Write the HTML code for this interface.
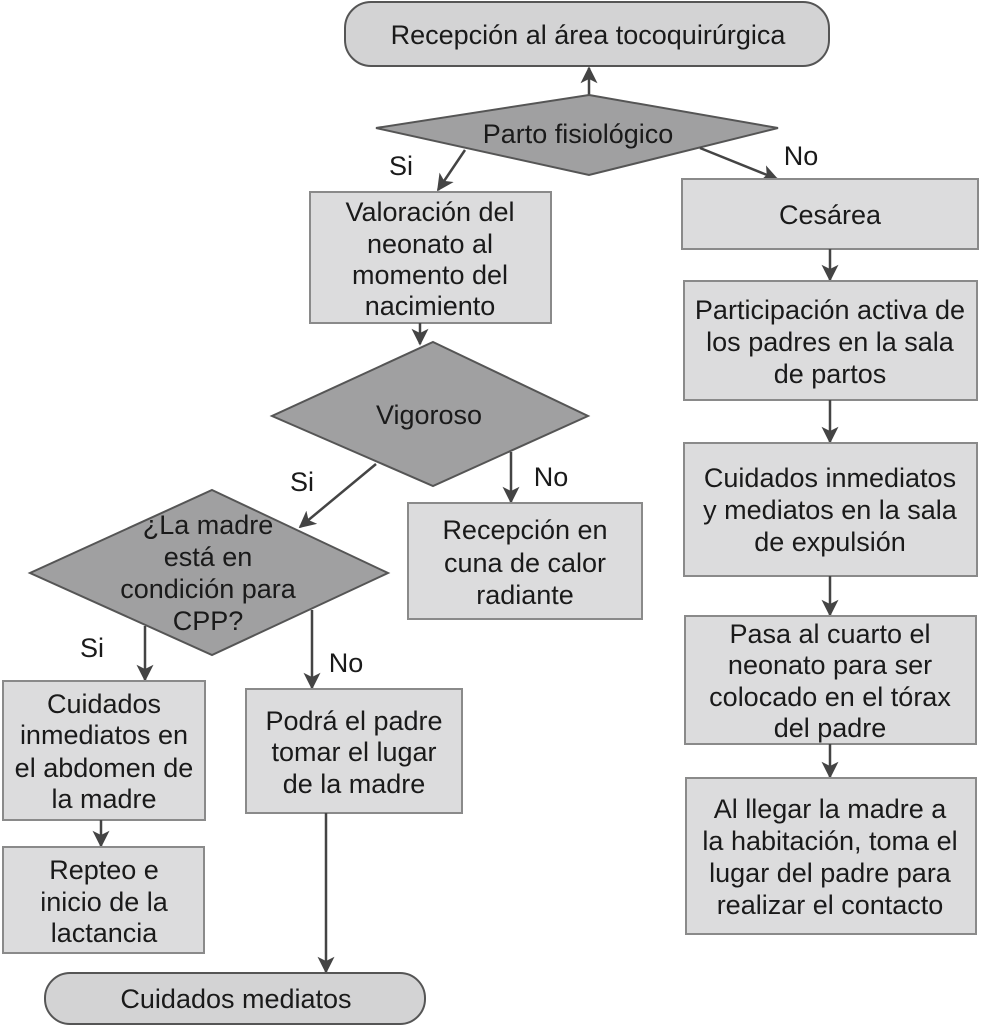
<!DOCTYPE html>
<html><head><meta charset="utf-8"><style>
html,body{margin:0;padding:0;background:#fff}
svg{display:block}
text{font-family:"Liberation Sans",Arial,sans-serif;font-size:27px;fill:#1a1a1a;text-anchor:middle}
.b{fill:#dcdcdd;stroke:#8a8a8a;stroke-width:2}
.t{fill:#d3d3d4;stroke:#555;stroke-width:2}
.d{fill:#a0a0a1;stroke:#555;stroke-width:2}
.l{stroke:#444;stroke-width:2.5;fill:none;marker-end:url(#m)}
</style></head><body>
<svg width="981" height="1027" viewBox="0 0 981 1027" xmlns="http://www.w3.org/2000/svg">
<defs>
<marker id="m" viewBox="0 0 10 10" refX="9" refY="5" markerWidth="17" markerHeight="17" markerUnits="userSpaceOnUse" orient="auto"><path d="M0,0 L10,5 L0,10 L2.5,5 z" fill="#444"/></marker></defs>

<rect class="t" x="345" y="2" width="484" height="64" rx="26"/>
<text x="588" y="44">Recepción al área tocoquirúrgica</text>
<line class="l" x1="589" y1="95" x2="589" y2="68"/>

<polygon class="d" points="589,95 778,128 589,175 376,128"/>
<text x="578" y="143">Parto fisiológico</text>
<text x="401" y="175">Si</text>
<line class="l" x1="465" y1="150" x2="438" y2="190"/>
<text x="801" y="165">No</text>
<line class="l" x1="700" y1="148" x2="777" y2="179"/>

<rect class="b" x="310" y="192" width="241" height="131"/>
<text x="430" y="221">Valoración del</text>
<text x="430" y="253">neonato al</text>
<text x="430" y="284">momento del</text>
<text x="430" y="315">nacimiento</text>
<line class="l" x1="420" y1="323" x2="420" y2="344"/>

<rect class="b" x="682" y="179" width="296" height="70"/>
<text x="830" y="224">Cesárea</text>
<line class="l" x1="830" y1="249" x2="830" y2="280"/>
<rect class="b" x="684" y="281" width="293" height="119"/>
<text x="830" y="319">Participación activa de</text>
<text x="830" y="351">los padres en la sala</text>
<text x="830" y="383">de partos</text>
<line class="l" x1="830" y1="400" x2="830" y2="442"/>
<rect class="b" x="684" y="443" width="293" height="133"/>
<text x="830" y="487">Cuidados inmediatos</text>
<text x="830" y="519">y mediatos en la sala</text>
<text x="830" y="551">de expulsión</text>
<line class="l" x1="830" y1="576" x2="830" y2="615"/>
<rect class="b" x="685" y="616" width="291" height="128"/>
<text x="830" y="643">Pasa al cuarto el</text>
<text x="830" y="674">neonato para ser</text>
<text x="830" y="706">colocado en el tórax</text>
<text x="830" y="737">del padre</text>
<line class="l" x1="830" y1="744" x2="830" y2="777"/>
<rect class="b" x="686" y="778" width="290" height="156"/>
<text x="830" y="818">Al llegar la madre a</text>
<text x="830" y="850">la habitación, toma el</text>
<text x="830" y="882">lugar del padre para</text>
<text x="830" y="914">realizar el contacto</text>

<polygon class="d" points="433,342 588,416 433,486 272,416"/>
<text x="429" y="424">Vigoroso</text>
<text x="302" y="491">Si</text>
<line class="l" x1="376" y1="464" x2="300" y2="527"/>
<text x="551" y="486">No</text>
<line class="l" x1="511" y1="452" x2="511" y2="502"/>
<rect class="b" x="408" y="503" width="234" height="116"/>
<text x="525" y="539">Recepción en</text>
<text x="525" y="572">cuna de calor</text>
<text x="525" y="604">radiante</text>

<polygon class="d" points="212,490 388,573 212,655 30,573"/>
<text x="208" y="534">¿La madre</text>
<text x="208" y="566">está en</text>
<text x="208" y="598">condición para</text>
<text x="208" y="630">CPP?</text>
<text x="92" y="657">Si</text>
<line class="l" x1="145" y1="626" x2="145" y2="680"/>
<text x="346" y="672">No</text>
<line class="l" x1="312" y1="610" x2="312" y2="688"/>

<rect class="b" x="3" y="681" width="202" height="139"/>
<text x="104" y="713">Cuidados</text>
<text x="104" y="744">inmediatos en</text>
<text x="104" y="777">el abdomen de</text>
<text x="104" y="808">la madre</text>
<line class="l" x1="101" y1="820" x2="101" y2="846"/>
<rect class="b" x="3" y="847" width="201" height="106"/>
<text x="104" y="879">Repteo e</text>
<text x="104" y="911">inicio de la</text>
<text x="104" y="942">lactancia</text>

<rect class="b" x="246" y="689" width="216" height="124"/>
<text x="354" y="730">Podrá el padre</text>
<text x="354" y="761">tomar el lugar</text>
<text x="354" y="793">de la madre</text>
<line class="l" x1="326" y1="813" x2="326" y2="972"/>

<rect class="t" x="45" y="973" width="380" height="51" rx="25"/>
<text x="236" y="1008">Cuidados mediatos</text>
</svg>
</body></html>
